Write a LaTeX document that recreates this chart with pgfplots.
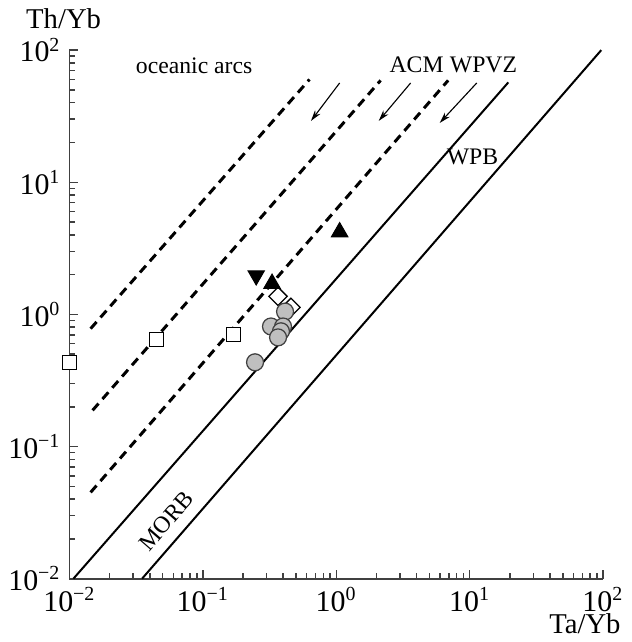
\documentclass[border=0pt]{standalone}
\usepackage{fontspec}
\setmainfont{Liberation Serif}
\usepackage{pgfplots}
\pgfplotsset{compat=1.18}
\usetikzlibrary{arrows.meta}

\begin{document}
\begin{tikzpicture}
\begin{loglogaxis}[
  scale only axis, width=214pt, height=212pt,
  xmin=0.01, xmax=100, ymin=0.01, ymax=100,
  axis x line=bottom, axis y line=left,
  axis line style={-, line width=0.8pt, black!75},
  tick align=inside,
  major tick length=3.6pt, minor tick length=2.4pt,
  every tick/.style={line width=0.6pt, black!75},
  xtick={0.01,0.1,1,10,100}, ytick={0.01,0.1,1,10,100},
  xticklabels={10\textsuperscript{−2},10\textsuperscript{−1},10\textsuperscript{0},10\textsuperscript{1},10\textsuperscript{2}},
  yticklabels={10\textsuperscript{−2},10\textsuperscript{−1},10\textsuperscript{0},10\textsuperscript{1},10\textsuperscript{2}},
  ticklabel style={font=\fontsize{12}{13}\selectfont},
  clip=false,
]
% field boundaries
\addplot[black, line width=0.8pt] coordinates {(0.0107,0.01)(19.5,57)};
\addplot[black, line width=0.8pt] coordinates {(0.035,0.01)(97,100)};
\addplot[black, line width=1.2pt, dash pattern=on 3.6pt off 2.4pt] coordinates {(0.0144,0.78)(0.63,60)};
\addplot[black, line width=1.2pt, dash pattern=on 3.6pt off 2.4pt] coordinates {(0.0149,0.188)(2.15,59)};
\addplot[black, line width=1.2pt, dash pattern=on 3.6pt off 2.4pt] coordinates {(0.0144,0.045)(6.9,59)};
% arrows
\addplot[black, line width=0.45pt, -{Stealth[length=4.5pt,width=2.6pt]}] coordinates {(1.06,56.4)(0.646,29.1)};
\addplot[black, line width=0.45pt, -{Stealth[length=4.5pt,width=2.6pt]}] coordinates {(3.61,56.4)(2.08,29.1)};
\addplot[black, line width=0.45pt, -{Stealth[length=4.5pt,width=2.6pt]}] coordinates {(11.3,56.4)(5.96,28.1)};
% samples
\addplot[only marks, mark=square*, mark size=2.8pt, mark options={draw=black, fill=white, line width=0.5pt}]
  coordinates {(0.169,0.706)(0.0447,0.648)(0.01,0.434)};
\addplot[only marks, mark=square*, mark size=2.6pt, mark options={rotate=45, draw=black, fill=white, line width=0.5pt}]
  coordinates {(0.366,1.37)(0.457,1.13)};
\addplot[only marks, mark=*, mark size=3.4pt, mark options={fill=black!25, draw=black!75, line width=0.5pt}]
  coordinates {(0.413,1.05)(0.324,0.81)(0.399,0.81)(0.385,0.745)(0.366,0.67)(0.246,0.434)};
\addplot[only marks, mark=triangle*, mark size=3.8pt, mark options={rotate=180, fill=black, draw=black}]
  coordinates {(0.251,1.97)};
\addplot[only marks, mark=triangle*, mark size=3.8pt, mark options={fill=black, draw=black}]
  coordinates {(0.330,1.71)(1.06,4.2)};
% labels
\node[font=\fontsize{9.5}{11}\selectfont] at (axis cs:0.086,75.7) {oceanic arcs};
\node[font=\fontsize{9.5}{11}\selectfont] at (axis cs:4.0,77) {ACM};
\node[font=\fontsize{9.5}{11}\selectfont] at (axis cs:12.7,77) {WPVZ};
\node[font=\fontsize{9.5}{11}\selectfont] at (axis cs:10.5,15.6) {WPB};
\node[font=\fontsize{9.5}{11}\selectfont, rotate=49, inner sep=0pt] at (axis cs:0.0531,0.0274) {MORB};
\node[font=\fontsize{11.5}{13}\selectfont] at (rel axis cs:-0.011,1.06) {Th/Yb};
\node[font=\fontsize{11.5}{13}\selectfont] at (rel axis cs:0.966,-0.085) {Ta/Yb};
\end{loglogaxis}
\end{tikzpicture}
\end{document}
